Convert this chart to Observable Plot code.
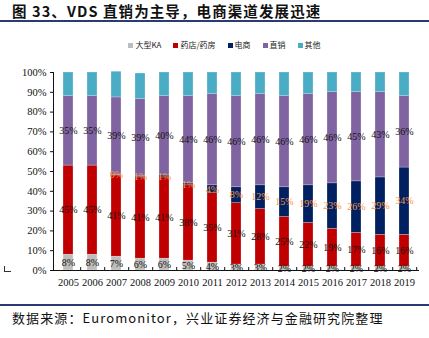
<!DOCTYPE html>
<html><head><meta charset="utf-8">
<script src="https://cdn.jsdelivr.net/npm/d3@7"></script>
<script src="https://cdn.jsdelivr.net/npm/@observablehq/plot@0.6"></script>
<style>
html,body{margin:0;padding:0;background:#fff;}
#wrap{position:relative;width:429px;height:338px;overflow:hidden;font-family:"Noto Sans CJK SC",sans-serif;}
#title{position:absolute;left:12px;top:0px;font-size:14.5px;line-height:21px;font-weight:bold;color:#111;letter-spacing:1.1px;white-space:nowrap;}
.rule{position:absolute;left:0;width:429px;height:2px;background:#2B3A73;}
#legend{position:absolute;left:0;width:429px;top:39px;display:flex;justify-content:center;padding-left:20px;box-sizing:border-box;gap:12px;font-size:8px;line-height:12px;color:#222;}
#legend span.it{display:flex;align-items:center;gap:2px;white-space:nowrap;}
#legend i{display:inline-block;width:5px;height:5px;}
#chart{position:absolute;left:0;top:55px;}
#source{position:absolute;left:12px;top:309px;font-size:13px;line-height:17px;letter-spacing:1.1px;color:#111;white-space:nowrap;}
#mark{position:absolute;left:4px;top:266px;width:6px;height:5px;border-left:1px solid #333;border-bottom:1px solid #333;}
</style></head>
<body><div id="wrap">
<div id="title">图 33、VDS 直销为主导，电商渠道发展迅速</div>
<div class="rule" style="top:20px"></div>
<div id="legend"></div>
<div id="chart"></div>
<div id="mark"></div>
<div class="rule" style="top:304px"></div>
<div id="source">数据来源：Euromonitor，兴业证券经济与金融研究院整理</div>
</div>
<script>
const years = [2005,2006,2007,2008,2009,2010,2011,2012,2013,2014,2015,2016,2017,2018,2019];
const categories = ["大型KA","药店/药房","电商","直销","其他"];
const colors = ["#BDBDBD","#C00000","#002060","#8064A2","#4BACC6"];
const ka       = [8,8,7,6,6,5,4,3,3,2,2,2,2,2,2];
const pharmacy = [45,45,41,41,41,38,35,31,28,25,22,19,17,16,16];
const ecom     = [0,0,0.4,0.5,1,1,4,8,12,15,19,23,26,29,34];
const direct   = [35,35,39,39,40,44,46,46,46,46,46,46,45,43,36];
const other    = [12,12,13,13,12,12,11,12,11,12,11,10,10,10,12];
const yTicks = [0,10,20,30,40,50,60,70,80,90,100];

const series = [ka, pharmacy, ecom, direct, other];
const data = [];
years.forEach((y, i) => {
  categories.forEach((c, j) => data.push({year: y, cat: c, value: series[j][i], color: colors[j]}));
});

// legend
const lg = document.getElementById("legend");
categories.forEach((c, j) => {
  const s = document.createElement("span"); s.className = "it";
  s.innerHTML = `<i style="background:${colors[j]}"></i>${c}`;
  lg.appendChild(s);
});

const W = 429, ML = 53, MR = 10;
const step = (W - ML - MR) / years.length;

const labelText = d => {
  if (d.cat === "其他") return null;
  if (d.cat === "电商" && d.value === 0) return null;
  return Math.round(d.value) + "%";
};

const plot = Plot.plot({
  width: W, height: 240,
  marginLeft: ML, marginRight: MR, marginTop: 17, marginBottom: 25,
  style: {fontFamily: "'Liberation Serif', serif", fontSize: "10.5px", color: "#111", background: "transparent"},
  x: {type: "band", domain: years, paddingInner: 0.6, paddingOuter: 0.3, label: null},
  y: {domain: [0, 100], label: null},
  color: {type: "identity"},
  marks: [
    Plot.barY(data, {x: "year", y: "value", fill: "color", stroke: "white", strokeWidth: 0.4, strokeOpacity: 0.6}),
    Plot.text(data, Plot.stackY({x: "year", y: "value", text: labelText,
      fill: d => d.cat === "电商" ? "#F79646" : "#111", fontSize: 10})),
    Plot.axisY({ticks: yTicks, tickFormat: d => d + "%", tickSize: 3, tickPadding: 4, fontSize: 10.5}),
    Plot.axisX({tickSize: 0, tickPadding: 8, fontSize: 10.5, tickFormat: d => String(d)}),
    Plot.ruleX(years, {x: d => d, y1: 0, y2: 1.5, dx: step / 2, stroke: "#111"}),
    Plot.ruleY([0], {stroke: "#111"}),
    Plot.frame({anchor: "left", stroke: "#111"})
  ]
});
document.getElementById("chart").appendChild(plot);
</script>
</body></html>
